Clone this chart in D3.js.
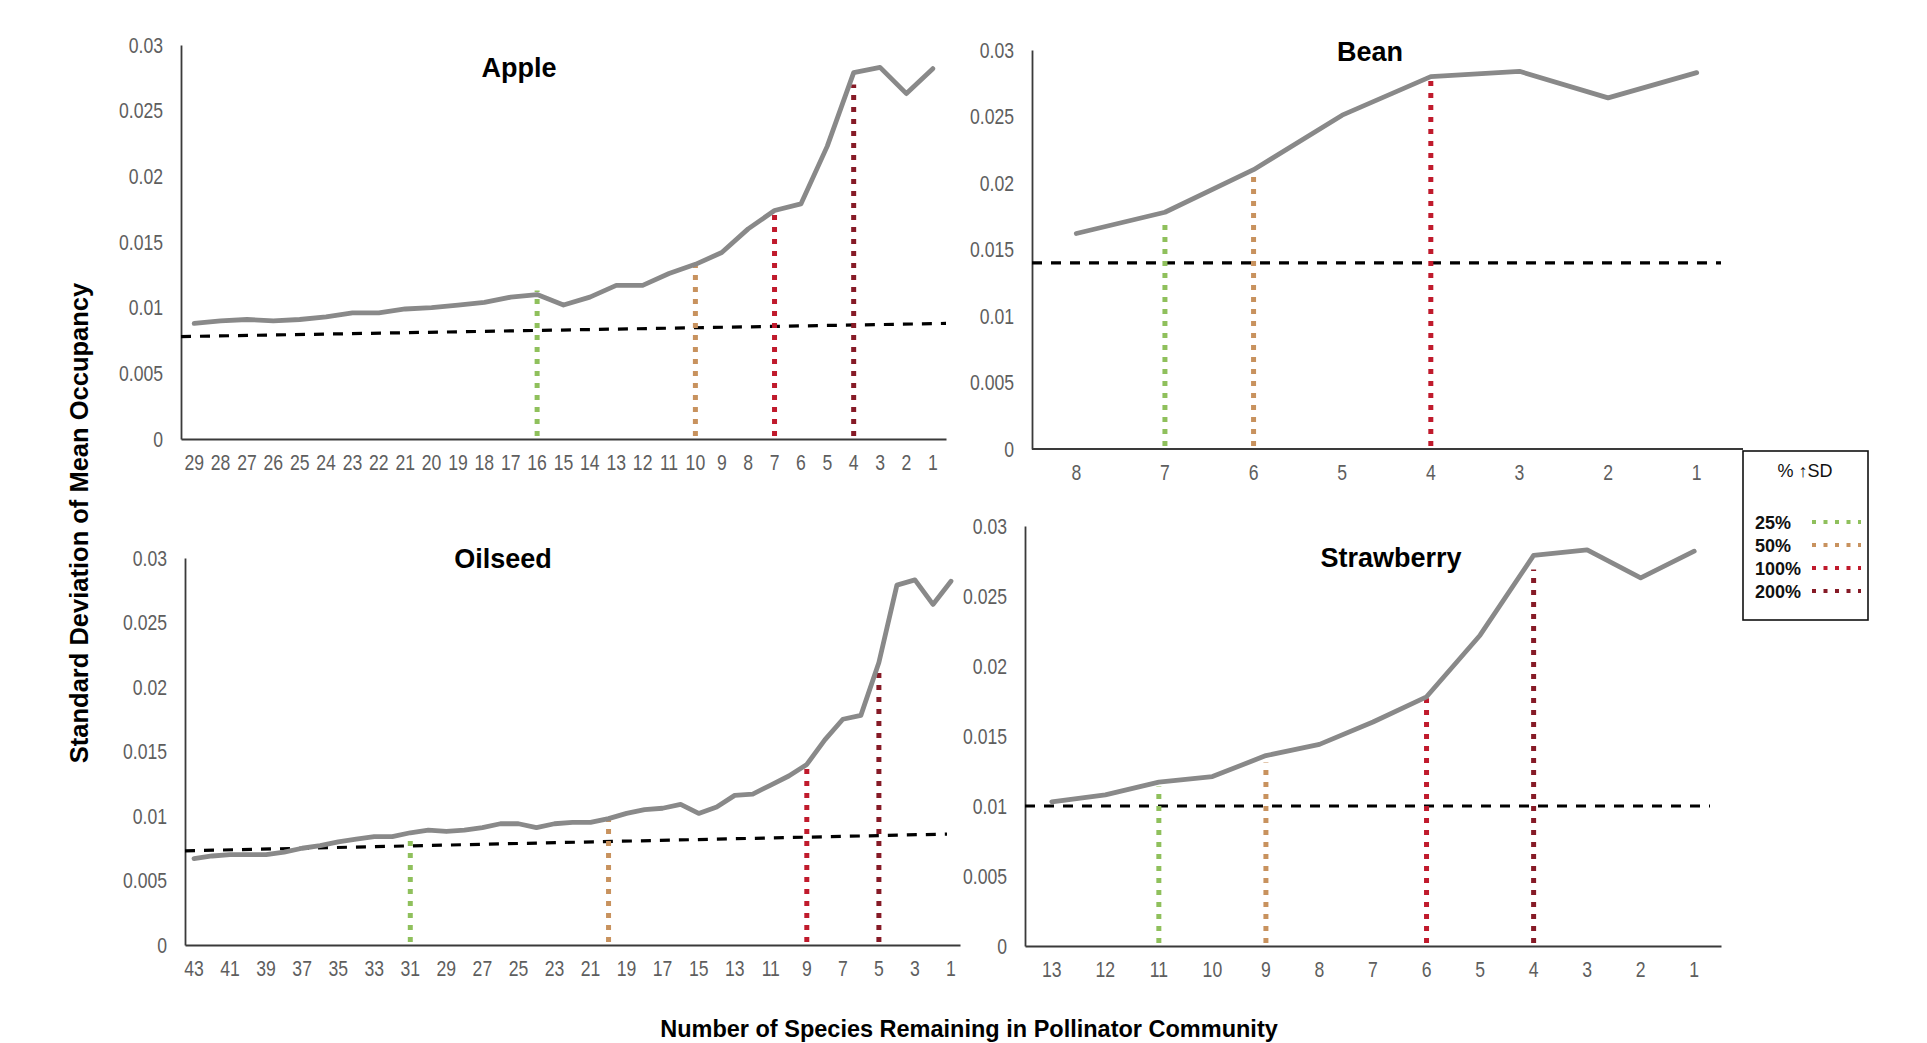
<!DOCTYPE html>
<html>
<head>
<meta charset="utf-8">
<script src="https://cdn.jsdelivr.net/npm/d3@7"></script>
<style>
  html, body { margin: 0; padding: 0; background: #fff; }
  svg { display: block; }
  .tick text { font-family: "Liberation Sans", Arial, sans-serif; font-size: 22px; fill: #5e5e5e; }
  .title { font-family: "Liberation Sans", Arial, sans-serif; font-weight: bold; fill: #000; }
</style>
</head>
<body>
<svg id="chart" width="1927" height="1043"></svg>
<script>
// Species remaining in each crop's pollinator community (x categories, left to right)
const appleSpecies = [29,28,27,26,25,24,23,22,21,20,19,18,17,16,15,14,13,12,11,10,9,8,7,6,5,4,3,2,1];
const beanSpecies = [8,7,6,5,4,3,2,1];
const oilseedSpecies = [43,42,41,40,39,38,37,36,35,34,33,32,31,30,29,28,27,26,25,24,23,22,21,20,19,18,17,16,15,14,13,12,11,10,9,8,7,6,5,4,3,2,1];
const strawberrySpecies = [13,12,11,10,9,8,7,6,5,4,3,2,1];

// Standard deviation of mean occupancy for each community size
const appleSD = [0.0088,0.0090,0.0091,0.0090,0.0091,0.0093,0.0096,0.0096,0.0099,0.0100,0.0102,0.0104,0.0108,0.0110,0.0102,0.0108,0.0117,0.0117,0.0126,0.0133,0.0142,0.0160,0.0174,0.0179,0.0223,0.0279,0.0283,0.0263,0.0282];
const beanSD = [0.0162,0.0178,0.0210,0.0251,0.0280,0.0284,0.0264,0.0283];
const oilseedSD = [0.0067,0.0069,0.0070,0.0070,0.0070,0.0072,0.0075,0.0077,0.0080,0.0082,0.0084,0.0084,0.0087,0.0089,0.0088,0.0089,0.0091,0.0094,0.0094,0.0091,0.0094,0.0095,0.0095,0.0098,0.0102,0.0105,0.0106,0.0109,0.0102,0.0107,0.0116,0.0117,0.0124,0.0131,0.0140,0.0159,0.0175,0.0178,0.0219,0.0279,0.0283,0.0264,0.0282];
const strawberrySD = [0.0103,0.0108,0.0117,0.0121,0.0136,0.0144,0.0160,0.0178,0.0222,0.0279,0.0283,0.0263,0.0282];

// Baseline SD (dashed reference), value at the left and right ends of each panel
const appleBaseline = [0.0078, 0.0088];
const beanBaseline = [0.0140, 0.0140];
const oilseedBaseline = [0.0073, 0.0086];
const strawberryBaseline = [0.0100, 0.0100];

// Thresholds where SD rose by a given percentage: species count, level, height of the marker
const appleMarkerSpecies = [16, 10, 7, 4];
const appleMarkerLevel = ["25%", "50%", "100%", "200%"];
const appleMarkerTop = [0.0113, 0.0133, 0.0172, 0.0270];
const beanMarkerSpecies = [7, 6, 4];
const beanMarkerLevel = ["25%", "50%", "100%"];
const beanMarkerTop = [0.0171, 0.0210, 0.0280];
const oilseedMarkerSpecies = [31, 20, 9, 5];
const oilseedMarkerLevel = ["25%", "50%", "100%", "200%"];
const oilseedMarkerTop = [0.0086, 0.0099, 0.0139, 0.0212];
const strawberryMarkerSpecies = [11, 9, 6, 4];
const strawberryMarkerLevel = ["25%", "50%", "100%", "200%"];
const strawberryMarkerTop = [0.0114, 0.0131, 0.0177, 0.0269];

// Axis ticks
const yTickValues = [0, 0.005, 0.01, 0.015, 0.02, 0.025, 0.03];
const yTickLabels = ["0", "0.005", "0.01", "0.015", "0.02", "0.025", "0.03"];

// Legend
const legendTitle = "% \u2191SD";
const legendLevels = ["25%", "50%", "100%", "200%"];
const legendColors = ["#8fc05c", "#c8925e", "#c01a2c", "#861a26"];

const yAxisTitle = "Standard Deviation of Mean Occupancy";
const xAxisTitle = "Number of Species Remaining in Pollinator Community";

const levelColor = d3.scaleOrdinal().domain(legendLevels).range(legendColors);

// Tick labels are set in a condensed face: squeeze the regular face horizontally
const NARROW = 0.8;

// Panel frames (plot area in page pixels) and title placement
const panels = [
  { name: "Apple", species: appleSpecies, sd: appleSD, base: appleBaseline,
    mk: [appleMarkerSpecies, appleMarkerLevel, appleMarkerTop],
    left: 181, right: 946, top: 45, bottom: 439, baseEndInset: 0, titleX: 519, titleY: 77, oddOnly: false },
  { name: "Bean", species: beanSpecies, sd: beanSD, base: beanBaseline,
    mk: [beanMarkerSpecies, beanMarkerLevel, beanMarkerTop],
    left: 1032, right: 1741, top: 50, bottom: 449, baseEndInset: 20, axisExtend: 2, titleX: 1370, titleY: 61, oddOnly: false },
  { name: "Oilseed", species: oilseedSpecies, sd: oilseedSD, base: oilseedBaseline,
    mk: [oilseedMarkerSpecies, oilseedMarkerLevel, oilseedMarkerTop],
    left: 185, right: 960, top: 558, bottom: 945, baseEndInset: 13, titleX: 503, titleY: 568, oddOnly: true },
  { name: "Strawberry", species: strawberrySpecies, sd: strawberrySD, base: strawberryBaseline,
    mk: [strawberryMarkerSpecies, strawberryMarkerLevel, strawberryMarkerTop],
    left: 1025, right: 1721, top: 526, bottom: 946, baseEndInset: 11, titleX: 1391, titleY: 567, oddOnly: false }
];

const svg = d3.select("#chart");
svg.append("rect").attr("width", 1927).attr("height", 1043).attr("fill", "#fff");

panels.forEach(p => {
  const g = svg.append("g");
  const x = d3.scaleBand().domain(p.species).range([p.left, p.right]).padding(0);
  const y = d3.scaleLinear().domain([0, 0.03]).range([p.bottom, p.top]);
  const cx = n => x(n) + x.bandwidth() / 2;

  // y axis
  const ya = g.append("g").attr("transform", `translate(${p.left},0)`)
    .call(d3.axisLeft(y).tickValues(yTickValues).tickFormat((d, i) => yTickLabels[i]).tickSize(0).tickPadding(18));
  ya.select(".domain").attr("stroke", "#3a3a3a").attr("stroke-width", 1.8);
  ya.selectAll(".tick text").attr("x", -18 / NARROW).attr("transform", `scale(${NARROW},1)`);

  // x axis
  const xa = g.append("g").attr("transform", `translate(0,${p.bottom})`)
    .call(d3.axisBottom(x)
      .tickValues(p.oddOnly ? p.species.filter(n => n % 2 === 1) : p.species)
      .tickSize(0).tickSizeOuter(0).tickPadding(15));
  xa.select(".domain").attr("stroke", "#3a3a3a").attr("stroke-width", 1.8);
  xa.selectAll(".tick text").attr("transform", `scale(${NARROW},1)`);
  if (p.axisExtend) {
    xa.select(".domain").attr("d", `M${p.left},0H${p.right + p.axisExtend}`);
  }

  // dashed baseline
  g.append("line")
    .attr("x1", p.left).attr("x2", p.right - p.baseEndInset)
    .attr("y1", y(p.base[0])).attr("y2", y(p.base[1]))
    .attr("stroke", "#000").attr("stroke-width", 3.2)
    .attr("stroke-dasharray", "10,9");

  // threshold markers
  const [ms, ml, mt] = p.mk;
  g.selectAll(".marker").data(ms.map((n, i) => ({ n, level: ml[i], top: mt[i] })))
    .join("line").attr("class", "marker")
    .attr("x1", d => cx(d.n)).attr("x2", d => cx(d.n))
    .attr("y1", y(0) - 3).attr("y2", d => y(d.top))
    .attr("stroke", d => levelColor(d.level)).attr("stroke-width", 5)
    .attr("stroke-dasharray", "5,7");

  // SD curve
  const pts = p.species.map((n, i) => ({ n, v: p.sd[i] }));
  g.append("path").datum(pts)
    .attr("fill", "none").attr("stroke", "#898989").attr("stroke-width", 4.8)
    .attr("stroke-linejoin", "round").attr("stroke-linecap", "round")
    .attr("d", d3.line().x(d => cx(d.n)).y(d => y(d.v)));

  // panel title
  g.append("text").attr("class", "title")
    .attr("x", p.titleX).attr("y", p.titleY)
    .attr("text-anchor", "middle").attr("font-size", 27)
    .text(p.name);
});

// shared axis titles
svg.append("text").attr("class", "title")
  .attr("transform", "translate(88,523) rotate(-90)")
  .attr("text-anchor", "middle").attr("font-size", 25.5)
  .text(yAxisTitle);
svg.append("text").attr("class", "title")
  .attr("x", 969).attr("y", 1037)
  .attr("text-anchor", "middle").attr("font-size", 23.5)
  .text(xAxisTitle);

// legend
const lg = svg.append("g");
lg.append("rect").attr("x", 1743).attr("y", 451).attr("width", 125).attr("height", 169)
  .attr("fill", "#fff").attr("stroke", "#111").attr("stroke-width", 1.6);
lg.append("text").attr("x", 1805).attr("y", 477).attr("text-anchor", "middle")
  .attr("font-family", "Liberation Sans, Arial, sans-serif").attr("font-size", 18).attr("fill", "#111")
  .text(legendTitle);
const ly = d3.scalePoint().domain(legendLevels).range([522, 591]);
lg.selectAll(".lt").data(legendLevels).join("text").attr("class", "lt")
  .attr("x", 1755).attr("y", d => ly(d) + 7)
  .attr("font-family", "Liberation Sans, Arial, sans-serif").attr("font-weight", "bold")
  .attr("font-size", 18).attr("fill", "#111")
  .text(d => d);
lg.selectAll(".ls").data(legendLevels).join("line").attr("class", "ls")
  .attr("x1", 1812).attr("x2", 1861).attr("y1", d => ly(d)).attr("y2", d => ly(d))
  .attr("stroke", d => levelColor(d)).attr("stroke-width", 4)
  .attr("stroke-dasharray", "4,7.5");
</script>
</body>
</html>
